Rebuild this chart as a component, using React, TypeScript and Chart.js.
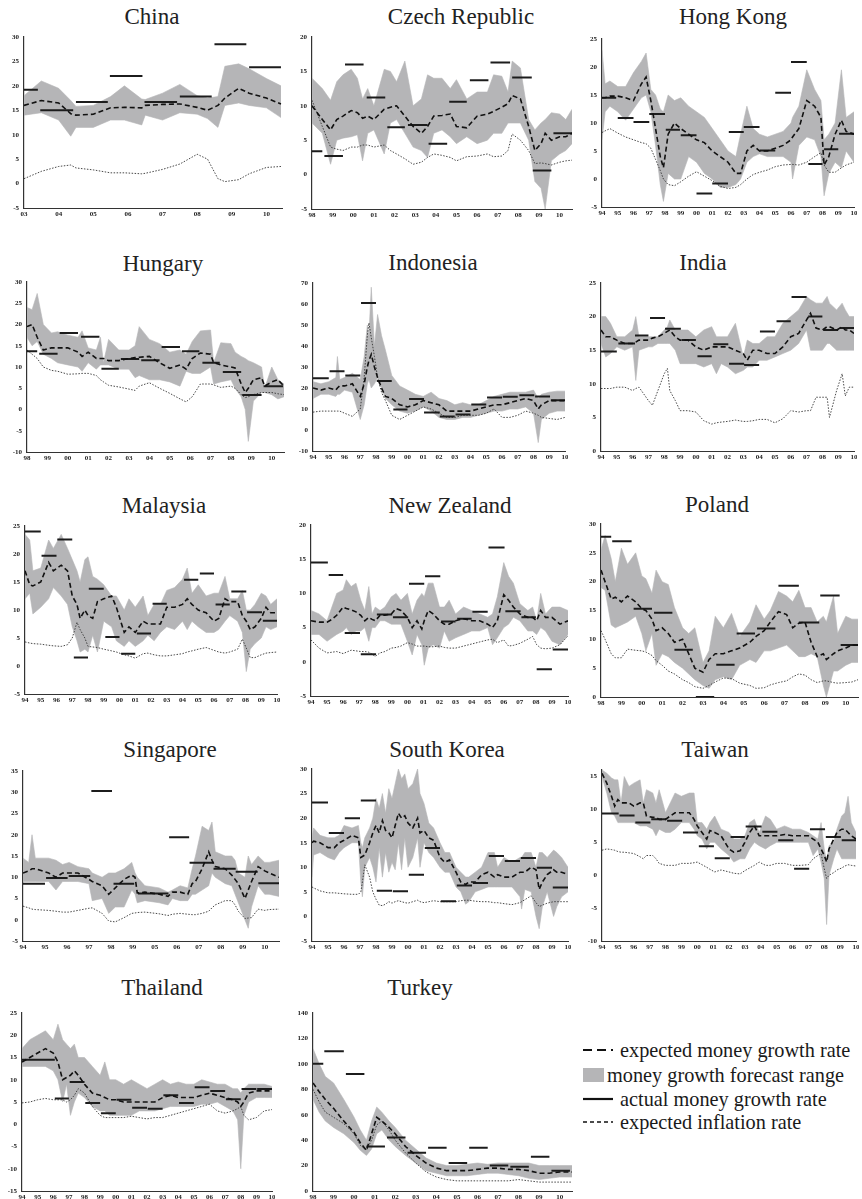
import React, { useEffect, useRef } from "react";
import { Chart, registerables } from "chart.js";
Chart.register(...registerables);

// ---------- tick values ----------
const yearTicks94 = [1994, 1995, 1996, 1997, 1998, 1999, 2000, 2001, 2002, 2003, 2004, 2005, 2006, 2007, 2008, 2009, 2010];
const yearTicks98 = [1998, 1999, 2000, 2001, 2002, 2003, 2004, 2005, 2006, 2007, 2008, 2009, 2010];
const yearTicks03 = [2003, 2004, 2005, 2006, 2007, 2008, 2009, 2010];
const singaporeTickPos = [0, 1, 2, 3, 4, 5, 6, 7, 8, 9, 10, 11];
const singaporeTickLabels = ["94", "95", "96", "97", "98", "99", "05", "06", "07", "08", "09", "10"];

const yTicksChina = [-5, 0, 5, 10, 15, 20, 25, 30];
const yTicksCzech = [-5, 0, 5, 10, 15, 20];
const yTicksHK = [-5, 0, 5, 10, 15, 20, 25];
const yTicksHungary = [-10, -5, 0, 5, 10, 15, 20, 25, 30];
const yTicksIndonesia = [-10, 0, 10, 20, 30, 40, 50, 60, 70];
const yTicksIndia = [0, 5, 10, 15, 20, 25];
const yTicksMalaysia = [-5, 0, 5, 10, 15, 20, 25];
const yTicksNZ = [-5, 0, 5, 10, 15, 20];
const yTicksPoland = [0, 5, 10, 15, 20, 25, 30];
const yTicksSingapore = [-5, 0, 5, 10, 15, 20, 25, 30, 35];
const yTicksKorea = [-5, 0, 5, 10, 15, 20, 25, 30];
const yTicksTaiwan = [-10, -5, 0, 5, 10, 15];
const yTicksThailand = [-15, -10, -5, 0, 5, 10, 15, 20, 25];
const yTicksTurkey = [0, 20, 40, 60, 80, 100, 120, 140];

// ---------- China ----------
const chinaYears = [2003, 2003.5, 2004, 2004.35, 2004.5, 2005, 2005.5, 2005.9, 2006.4, 2006.5, 2007, 2007.5, 2008, 2008.3, 2008.6, 2008.8, 2009.2, 2009.5, 2010, 2010.42];
const chinaHi = [18, 21, 19.5, 17, 15.8, 16, 17.8, 20, 17.3, 17.2, 18.5, 20.3, 18, 17.5, 17.8, 24, 24.5, 23.5, 21.5, 20];
const chinaLo = [14, 14.5, 13, 9.7, 11.5, 11.5, 13, 13, 12, 14, 13, 14.5, 14.2, 13.3, 11.5, 16, 16.5, 16, 15.5, 13.5];
const chinaExp = [16, 17, 16.5, 14.3, 14, 14.2, 15.5, 15.6, 15.5, 16, 16.2, 16.3, 15.6, 15, 16, 17.5, 19.5, 18.5, 17.5, 16.3];
const chinaInf = [1, 2.5, 3.5, 3.8, 3.2, 2.8, 2.2, 2.2, 2, 2.1, 2.9, 4, 6, 5, 1, 0.4, 0.8, 2, 3.3, 3.5];
const chinaAct = [[2003, 2003.4, 19.2], [2003.47, 2004.42, 15], [2004.5, 2005.42, 16.7], [2005.48, 2006.42, 22], [2006.48, 2007.42, 16.7], [2007.5, 2008.42, 17.8], [2008.5, 2009.42, 28.5], [2009.5, 2010.42, 23.8]];

// ---------- Czech Republic ----------
const czechYears = [1998, 1998.5, 1998.9, 1999.2, 1999.5, 1999.9, 2000.2, 2000.45, 2000.7, 2001, 2001.5, 2001.8, 2002.1, 2002.5, 2002.9, 2003.3, 2003.6, 2003.9, 2004.3, 2004.7, 2005, 2005.5, 2006, 2006.5, 2006.8, 2007.2, 2007.5, 2007.7, 2008.1, 2008.5, 2008.8, 2009.1, 2009.3, 2009.6, 2010, 2010.3, 2010.6];
const czechHi = [14, 12.5, 10.8, 13.5, 14.5, 15.3, 14, 11, 12.5, 10, 15.3, 15, 13.5, 16.5, 10, 11, 14.5, 14, 14, 12.5, 13.8, 11, 12, 12, 14.5, 14.3, 12, 16.5, 15.5, 8, 6.5, 7.5, 8, 9, 8.8, 8, 9.5];
const czechLo = [7.5, 6, 1.5, 5, 5.3, 5.5, 5.8, 2, 6, 6.5, 3, 7.5, 8, 6, 4, 3.5, 2.5, 6, 6.5, 5.5, 4.5, 5.5, 4.5, 5, 6, 6, 7.5, 7.5, 7.5, 5, -1, -2, -5, 2, 3, 3.5, 4.5];
const czechExp = [10, 8, 6.5, 8, 8.5, 9.3, 9, 8.2, 8.5, 8, 9.5, 9.8, 10, 8.5, 7, 6, 7, 8.5, 8.6, 8.8, 7, 6.8, 8.5, 8.8, 9.2, 9.8, 10.3, 11.5, 11, 7, 3.5, 4.5, 6, 5, 5.5, 5.5, 6];
const czechInf = [10.8, 7, 4, 3.7, 3.5, 4, 4, 4.3, 4.3, 4, 4.3, 3.5, 3, 2.3, 1.5, 1.8, 2.5, 3, 2.8, 2.5, 2, 2.6, 2.7, 3, 2.6, 2.7, 3.5, 5.9, 5, 3.5, 1.6, 1.7, 1.6, 1.4, 1.8, 2, 2.1];
const czechAct = [[1998, 1998.5, 3.4], [1998.6, 1999.5, 2.7], [1999.6, 2000.5, 16], [2000.65, 2001.55, 11.2], [2001.65, 2002.5, 6.9], [2002.65, 2003.6, 7.2], [2003.65, 2004.55, 4.5], [2004.65, 2005.5, 10.6], [2005.65, 2006.55, 13.7], [2006.65, 2007.6, 16.3], [2007.7, 2008.65, 14.1], [2008.7, 2009.6, 0.6], [2009.7, 2010.6, 6]];

// ---------- Hong Kong ----------
const hkYears = [1994, 1994.2, 1994.5, 1995, 1995.5, 1996, 1996.5, 1996.8, 1997.1, 1997.4, 1997.7, 1997.9, 1998.2, 1998.6, 1999, 1999.5, 2000, 2000.5, 2001, 2001.5, 2002, 2002.5, 2002.8, 2003.2, 2003.6, 2004, 2004.5, 2005, 2005.5, 2006, 2006.1, 2006.5, 2007, 2007.5, 2007.9, 2008.1, 2008.4, 2008.8, 2009.2, 2009.5, 2010];
const hkHi = [23, 17, 17.5, 16.5, 16.5, 19, 21, 22.5, 16, 15, 12.5, 12, 15, 14, 14.5, 13, 12, 11, 9, 7, 5, 4, 8, 13, 9, 8, 7.5, 8, 8.5, 10, 11, 13, 19.5, 16, 14, 7, 8, 10, 19.5, 11, 12];
const hkLo = [7, 12, 13, 12, 10.5, 12.5, 14.5, 15, 12, 6, -1, -4, 1, 0, 0, 4, 3, 1, 0, -1.5, -1.5, -1, 0, 3, 4, 4.5, 4, 4, 4, 3, 0, 6, 7.5, 7, 4, -3, 1, 3, 2, 5, 3];
const hkExp = [14.5, 14.5, 14.8, 14.8, 14.5, 14, 17, 18.2, 14, 9, 4, 2, 8, 10, 9, 8, 7, 6.5, 5, 4, 3, 1, 1, 5, 6, 5, 5, 5.5, 6, 7, 7.5, 9, 14, 13, 11, 2.5, 4, 8, 10.5, 8.5, 8];
const hkInf = [8.3, 8.6, 9, 8.2, 7.5, 7, 6.5, 6.3, 5.5, 3.5, 1.5, 0, -1, -1.2, -0.5, 0.5, 1.3, 0.5, -0.3, -1.3, -1.7, -1.5, -1, 0, 0.8, 1.2, 1.6, 2.2, 2.5, 2.6, 2.6, 2.5, 3, 4, 4.7, 2.5, 1.2, 1.2, 2, 2.5, 3];
const hkAct = [[1994, 1994.9, 14.5], [1995, 1996, 10.9], [1996, 1997, 10.2], [1997, 1998, 11.6], [1998.05, 1998.95, 8.8], [1999, 2000, 7.8], [2000, 2001, -2.6], [2001, 2002, -0.8], [2002.05, 2003, 8.4], [2003, 2004, 9.3], [2004, 2005, 5.1], [2005, 2006, 15.4], [2006, 2007, 20.9], [2007.1, 2008, 2.7], [2008.1, 2009, 5.3], [2009.05, 2010, 8.1]];

// ---------- Hungary ----------
const hungaryYears = [1998, 1998.25, 1998.5, 1998.8, 1999.2, 1999.5, 2000, 2000.5, 2000.7, 2001, 2001.4, 2001.6, 2001.75, 2002, 2002.5, 2003, 2003.3, 2003.5, 2004, 2004.5, 2005, 2005.5, 2005.8, 2006.1, 2006.5, 2007, 2007.15, 2007.5, 2008, 2008.2, 2008.5, 2008.7, 2008.85, 2009.1, 2009.5, 2009.65, 2010, 2010.3, 2010.6];
const hungaryHi = [24, 23.5, 27.3, 20, 18, 18.3, 17.5, 17, 18.5, 14.5, 14, 17, 11, 16.5, 14, 14, 15, 19.5, 16.5, 15.5, 13.5, 14, 13, 16, 18.5, 18.7, 11, 15.7, 15.5, 13.5, 12.5, 12, 11.5, 11, 10, 5, 10, 7, 6];
const hungaryLo = [17, 15, 16, 13, 12, 11, 10.5, 10, 9, 11, 9.5, 10.5, 10.5, 10.5, 9.5, 9.5, 7.5, 8, 7, 7, 6.5, 5.5, 9, 8.5, 8.5, 10, 6, 6.5, 7, 5, 3, 0, -7.5, 2, 4, 4, 3.5, 2.5, 3];
const hungaryExp = [19.5, 20, 17, 14, 14.5, 14.5, 14.5, 13.5, 12.5, 13.5, 12, 12, 12, 11.5, 11.5, 12, 12.2, 12.3, 12.5, 11, 9.7, 10.5, 9.5, 12, 13.3, 13, 11, 10.5, 10, 9.8, 6, 4, 5, 7, 7.5, 5.5, 6.5, 7, 5.5];
const hungaryInf = [14, 13, 12, 10, 9.2, 9, 8.3, 8.4, 8.5, 8.5, 8, 7, 6.5, 5.7, 5.3, 4.8, 4.5, 5.5, 6.3, 5, 3.8, 2.5, 1.8, 3, 6, 6, 5.8, 5.2, 5.5, 5, 3.5, 2.8, 3, 3.5, 4, 4, 4, 3.7, 3.5];
const hungaryAct = [[1998, 1998.5, 13.7], [1998.6, 1999.5, 13.1], [1999.6, 2000.5, 18], [2000.65, 2001.55, 17.1], [2001.65, 2002.5, 9.6], [2002.6, 2003.5, 11.9], [2003.6, 2004.5, 11.6], [2004.6, 2005.5, 14.7], [2005.6, 2006.45, 13.7], [2006.6, 2007.45, 11], [2007.6, 2008.5, 8.8], [2008.55, 2009.5, 3.4], [2009.6, 2010.55, 5.5]];

// ---------- Indonesia ----------
const indonesiaYears = [1994, 1994.5, 1995, 1995.45, 1995.55, 1995.7, 1996, 1996.5, 1997, 1997.25, 1997.45, 1997.55, 1997.7, 1997.9, 1998.1, 1998.35, 1998.6, 1999, 1999.5, 2000, 2000.5, 2001, 2001.5, 2002, 2002.5, 2003, 2003.5, 2004, 2004.5, 2005, 2005.5, 2006, 2006.5, 2007, 2007.5, 2008, 2008.3, 2008.5, 2009, 2009.5, 2010];
const indonesiaHi = [23, 22, 23, 25, 35, 24, 25, 27, 24, 35, 50, 45, 68, 40, 55, 45, 38, 26, 21, 19, 17, 16, 18, 15, 14, 12, 13, 12, 12, 14, 16, 17, 18, 18, 18, 19, 15, 17, 18, 18.5, 18.5];
const indonesiaLo = [15, 17, 17, 16, 17, 17, 19, 18, 5, 12, 22, 24, 20, 22, 25, 20, 15, 12, 9, 8, 9, 11, 9, 6, 5, 5, 6, 6, 7, 8, 9, 9, 10, 10, 11, 8, -6, 5, 8, 9, 9];
const indonesiaExp = [20, 19, 20, 19, 20, 21, 21, 22, 16, 22, 30, 33, 36, 30, 25, 20, 16, 15, 12, 11, 12, 14, 13, 12, 9, 9, 9, 9, 10, 11, 12, 12, 13, 14, 15, 14, 10, 12, 14, 14, 14];
const indonesiaInf = [8.5, 9, 9, 9, 9, 9, 8, 6.5, 10, 25, 45, 51, 44, 35, 25, 18, 14, 7, 5, 7, 9, 11, 10, 8, 6, 6, 7, 7, 7, 8, 10, 6, 6, 7, 9, 8, 7, 6, 5.5, 5, 6];
const indonesiaAct = [[1994, 1995, 24.7], [1995.05, 1996, 28], [1996.05, 1997, 26], [1997.05, 1998, 60.5], [1998.05, 1999, 23.3], [1999.1, 2000, 9.8], [2000.1, 2001.05, 14.8], [2001.05, 2002.05, 8.3], [2002.05, 2003, 6.4], [2003.05, 2004, 7.4], [2004.05, 2005, 12.2], [2005.05, 2006, 15.5], [2006.05, 2007, 15.8], [2007.1, 2008.05, 16.5], [2008.1, 2009.05, 16], [2009.1, 2010, 14.2]];

// ---------- India ----------
const indiaYears = [1994, 1994.3, 1994.6, 1995, 1995.5, 1996, 1996.2, 1996.4, 1997, 1997.25, 1997.6, 1998, 1998.2, 1998.35, 1998.7, 1999, 1999.5, 2000, 2000.5, 2001, 2001.3, 2001.6, 2002, 2002.5, 2003, 2003.25, 2003.6, 2004, 2004.5, 2005, 2005.5, 2006, 2006.5, 2007, 2007.25, 2007.6, 2008, 2008.3, 2008.45, 2008.9, 2009.25, 2009.45, 2009.7, 2010];
const indiaHi = [20, 20, 19, 17, 17, 18, 20, 17, 17, 17, 17, 18, 18.5, 19.5, 18, 18, 18, 17, 18, 18.5, 17, 17, 17, 19, 14, 16.5, 16, 16, 17, 17, 19, 20, 21, 23, 22.5, 22, 22, 23, 22, 21, 22, 21, 20, 20];
const indiaLo = [16, 14, 14.5, 15.5, 15, 15.5, 10.5, 15, 15.5, 15.5, 16, 16, 16, 16, 15, 13, 13, 13, 12.5, 13, 11.5, 13, 12.5, 11.5, 12, 12.5, 12.5, 13.5, 13.5, 14, 14.5, 15, 16, 18, 15, 15, 15, 16, 16, 15, 15, 15, 15, 15];
const indiaExp = [18, 17, 17, 16.5, 16, 16, 16.2, 16.5, 16.5, 16.8, 17, 17.5, 17.8, 18, 17, 16.5, 16.5, 15.5, 15, 15.5, 15.5, 15.5, 15.5, 15, 14.5, 13.5, 15, 15, 14.5, 14.5, 15.5, 17, 17.5, 19.5, 20.5, 18.3, 18, 18.5, 18.5, 18, 18.5, 18, 18, 17.5];
const indiaInf = [9.3, 9.3, 9.3, 9.5, 9.5, 9, 9.3, 9.5, 7.5, 6.8, 9, 11.5, 12.3, 9, 7.5, 6, 6, 5.8, 4.5, 4, 4.2, 4.3, 4.4, 4.6, 4.4, 4.4, 4.5, 4.7, 4.7, 4.2, 4.8, 6, 5.8, 6, 6, 8, 8, 8, 5, 9, 11.5, 8.2, 9.5, 9.5];
const indiaAct = [[1994, 1995, 14.8], [1995.1, 1996.15, 16], [1996.15, 1997, 17.2], [1997.1, 1998.05, 19.8], [1998.05, 1999.05, 18.2], [1999.1, 2000, 16.5], [2000.1, 2001, 14.1], [2001.1, 2002.05, 15.9], [2002.1, 2003.05, 13], [2003.05, 2004, 12.8], [2004.05, 2005, 17.8], [2005.1, 2006, 19.3], [2006.05, 2007, 22.9], [2007.1, 2008, 20], [2008.05, 2009, 18], [2009.1, 2010, 18.3]];

// ---------- Malaysia ----------
const malaysiaYears = [1994, 1994.3, 1994.5, 1995, 1995.5, 1995.8, 1996.3, 1996.7, 1997, 1997.3, 1997.5, 1997.8, 1998, 1998.3, 1998.6, 1999, 1999.5, 1999.8, 2000.3, 2000.6, 2001, 2001.5, 2001.8, 2002.2, 2002.6, 2003, 2003.5, 2004, 2004.3, 2004.6, 2005, 2005.5, 2006, 2006.3, 2006.7, 2007, 2007.5, 2007.8, 2008.05, 2008.3, 2008.6, 2009, 2009.3, 2009.6, 2010];
const malaysiaHi = [23.5, 22.5, 17, 17.5, 22.5, 21, 23.5, 21, 19, 17, 15, 19, 19.5, 16, 15.5, 14.5, 12.5, 12.5, 10, 12, 10.5, 12.5, 9, 11, 11, 13.5, 14, 15.5, 17.5, 13, 14.5, 12.5, 13, 13, 16, 12, 12, 13.5, 10, 10, 11, 13, 12.5, 11, 12];
const malaysiaLo = [12, 13, 9.3, 10.5, 12, 14, 12.5, 11, 7, 4.5, 2.5, 3, 2.5, 5.5, 2.5, 8, 7, 4.5, 3.5, 4.5, 3.5, 4.5, 5.5, 4.5, 6, 7, 6.5, 8, 6.5, 8, 7, 6, 6, 6.5, 8, 9, 8, 6, -1, 3, 4, 5, 7, 6.5, 7];
const malaysiaExp = [17, 14.5, 14.3, 15, 18.5, 17, 18, 17, 12.5, 11, 8.5, 10, 9, 8.5, 11.5, 12, 12.5, 10.5, 6, 7, 6, 8, 7.5, 7.5, 7.5, 10.5, 10.5, 11, 12, 11, 10, 9.5, 8, 8.5, 12, 11.5, 11.5, 9, 8, 6.5, 7, 8.5, 10.5, 9.5, 9.5];
const malaysiaInf = [4.3, 4.1, 4, 3.9, 3.7, 3.6, 3.5, 3.8, 5, 7.8, 6.5, 5, 3.5, 3.4, 3.3, 3, 2.7, 2.5, 2, 1.8, 1.4, 2.2, 2.3, 2, 1.8, 1.8, 2, 2.2, 2.5, 2.7, 3, 3.3, 2.8, 2.5, 2.3, 2.5, 3, 4.8, 3.2, 1.5, 1.5, 2, 2.3, 2.4, 2.5];
const malaysiaAct = [[1994, 1995, 24], [1995.05, 1996, 19.7], [1996.05, 1997, 22.6], [1997.1, 1998, 1.5], [1998.05, 1999, 13.8], [1999.1, 2000, 5.2], [2000.1, 2001, 2.2], [2001.1, 2002, 5.8], [2002.1, 2003, 11.1], [2004.1, 2005, 15.4], [2005.1, 2006, 16.5], [2006.1, 2007, 11], [2007.1, 2008.05, 13.3], [2008.1, 2009.05, 9.6], [2009.1, 2010, 8.1]];

// ---------- New Zealand ----------
const nzYears = [1994, 1994.5, 1995, 1995.3, 1995.6, 1996, 1996.2, 1996.5, 1996.8, 1997.1, 1997.35, 1997.6, 1997.8, 1998, 1998.3, 1998.6, 1999, 1999.3, 1999.6, 2000, 2000.3, 2000.6, 2000.9, 2001.05, 2001.3, 2001.6, 2002, 2002.3, 2002.6, 2003, 2003.5, 2004, 2004.5, 2005, 2005.3, 2005.6, 2006, 2006.3, 2006.6, 2007, 2007.5, 2007.8, 2008.05, 2008.3, 2008.6, 2009, 2009.5, 2010];
const nzHi = [7.5, 7, 6, 8, 10, 10.5, 12, 11, 11.5, 9, 7.5, 11, 7, 8, 7.5, 8, 9.5, 10, 9, 10, 7, 9, 10, 9.5, 11.5, 11.5, 8, 8, 9, 7, 8, 7.5, 7, 6.5, 7, 9.5, 14.5, 12.5, 11.5, 8.5, 7.5, 8, 6, 10, 7, 8, 8, 7.5];
const nzLo = [4, 4, 3, 3.5, 4, 4.5, 5, 4, 4.5, 4.5, 5, 3, 5, 5, 6, 6, 5.5, 5.5, 5.5, 3, 1, 4, 2.5, -0.5, 2, 2.5, 2, 4.5, 3, 3.5, 4, 4.5, 4.5, 5, 2.5, 3.5, 5, 5.5, 6.5, 6, 4.5, 4.5, 4, 5, 4.5, 3, 2.5, 4];
const nzExp = [6, 5.8, 5.8, 6.2, 6.8, 8, 7.8, 7.6, 7.3, 6.8, 6, 6.5, 6.2, 6, 6.8, 6.8, 7, 7.8, 7.5, 6.5, 5, 6, 4.8, 6, 7.5, 7, 6, 5.5, 5.5, 6, 6.3, 6, 6, 5.5, 5, 6, 9.8, 9, 8, 7, 6.5, 6.5, 6, 7.5, 6.5, 6.5, 5.5, 6];
const nzInf = [3.2, 2, 1.3, 1.4, 1.5, 1.2, 1.4, 1.7, 1.6, 1.5, 1.5, 1.4, 1.1, 0.8, 1.3, 1.5, 2, 2.1, 2.3, 2.8, 2.6, 2.3, 2.3, 2.3, 2.2, 2.2, 2.3, 2.1, 2, 2, 2.3, 2.6, 2.9, 3.2, 3.3, 2.8, 3.2, 2.3, 2.4, 2.7, 3.3, 3.7, 2.5, 2, 1.9, 2, 2.5, 3.8];
const nzAct = [[1994, 1995.05, 14.5], [1995.1, 1996, 12.7], [1996.1, 1997.05, 4.2], [1997.1, 1998.05, 1.1], [1998.1, 1999.05, 6.9], [1999.1, 2000.05, 6.5], [2000.1, 2001.05, 11.4], [2001.1, 2002.05, 12.5], [2002.1, 2003, 5.9], [2003.1, 2004, 6.3], [2004.05, 2005, 7.3], [2005.05, 2006.05, 16.7], [2006.1, 2007.05, 7.4], [2007.1, 2008, 6.5], [2008.05, 2009, -1.1], [2009.05, 2010, 1.8]];

// ---------- Poland ----------
const polandYears = [1998, 1998.2, 1998.5, 1998.7, 1999, 1999.3, 1999.7, 2000, 2000.2, 2000.5, 2000.7, 2001, 2001.3, 2001.6, 2002, 2002.3, 2002.6, 2003, 2003.3, 2003.6, 2004, 2004.4, 2004.8, 2005.3, 2005.6, 2006, 2006.3, 2006.7, 2007.1, 2007.4, 2007.7, 2008, 2008.3, 2008.6, 2008.9, 2009.05, 2009.4, 2009.6, 2010, 2010.3, 2010.6];
const polandHi = [25.5, 28, 24, 20, 25.8, 23, 25, 21, 20.5, 18, 22, 20, 19.5, 15.5, 12, 11, 12, 6, 8, 14, 12, 14.5, 10.5, 13, 16, 13.5, 15, 18.3, 17.5, 16.5, 18.5, 15.5, 15.5, 13, 14, 13, 17.5, 11, 14, 13.5, 13.5];
const polandLo = [19, 18.5, 12.5, 12, 12.5, 13, 14, 11, 8, 11, 5.5, 7.5, 7, 6, 5, 4, 3, 2, 1.5, 3, 3.5, 3, 5.5, 6.5, 6, 8, 8, 8.5, 9, 8, 7, 7, 7.5, 7, 2, 0, 4.5, 4.5, 5.5, 6, 6];
const polandExp = [22, 20, 17, 17.3, 16.5, 17.5, 16.5, 15.3, 15, 13.5, 11.5, 12, 11, 9.5, 10, 7.5, 5, 4.3, 6.5, 7.5, 7.5, 8, 8.5, 9.5, 10.5, 11.5, 13, 14.8, 14.3, 12, 12.8, 13, 9.5, 7, 7.5, 6.5, 7.5, 8, 8.5, 9, 9];
const polandInf = [11.5, 10, 7.5, 6.8, 6.8, 8.3, 8.1, 8, 7.8, 7.2, 6.3, 5.5, 4.5, 4, 3, 2.5, 1.8, 1.5, 2, 2.6, 3.3, 3.2, 2.4, 2, 1.5, 1.6, 2.1, 2.5, 2.8, 3.5, 4, 3.8, 3, 2.5, 2.8, 2.8, 2.5, 2.4, 2.5, 2.6, 3];
const polandAct = [[1998, 1998.5, 27.8], [1998.55, 1999.5, 27], [1999.6, 2000.5, 15.3], [2000.6, 2001.5, 14.6], [2001.6, 2002.5, 8.2], [2002.65, 2003.55, 0], [2003.65, 2004.55, 5.6], [2004.65, 2005.55, 11], [2005.65, 2006.55, 11.9], [2006.7, 2007.7, 19.3], [2007.7, 2008.7, 12.9], [2008.75, 2009.7, 17.6], [2009.75, 2010.6, 9]];

// ---------- Singapore (axis positions follow the printed labels) ----------
const singaporePos = [0, 0.26, 0.41, 0.56, 1.17, 1.5, 1.8, 2.1, 2.5, 3, 3.15, 3.6, 3.9, 4.2, 4.6, 4.95, 5.1, 5.2, 5.55, 6.2, 6.6, 6.8, 7.15, 7.5, 7.7, 7.85, 8.15, 8.45, 8.6, 8.75, 9.2, 9.5, 9.65, 9.8, 10.1, 10.25, 10.4, 10.7, 11, 11.2, 11.65];
const singaporeHi = [14.5, 13.5, 20, 14.5, 14.5, 14, 13, 13.5, 12.5, 12, 11, 10, 11, 11, 12, 13.5, 11, 10, 8, 7.5, 6.5, 7, 8, 7.5, 12, 15, 22, 21, 23, 16, 15, 15, 14, 11, 10, 15, 13, 15, 13.5, 13.5, 14];
const singaporeLo = [9, 9, 9, 9, 9, 7, 9, 9, 9, 8.5, 4.5, 5, 1.5, 3, 3, 7, 6, 4, 4.5, 4, 3.5, 5, 4.5, 4.5, 6, 6, 7, 8, 11, 10, 8.5, 8, 6, 4, 0, -2, 3, 8, 6, 6, 5.5];
const singaporeExp = [11, 11.5, 12, 12, 11, 10, 11, 11, 11, 9.5, 9, 8, 6, 7.5, 9.5, 10.5, 10, 6.3, 6.5, 6, 5.5, 6.5, 6.5, 6, 8.5, 9, 12, 16, 14, 12.5, 12, 10.5, 9.5, 8.5, 5, 7, 9, 12.5, 11.5, 11, 10];
const singaporeInf = [3.2, 2.8, 2.5, 2.4, 2.2, 2, 1.8, 1.8, 2.2, 2.7, 2.8, 1.5, -0.3, -0.5, 0.5, 1.5, 1.6, 1.7, 1.8, 1.4, 1, 1.3, 1.5, 1.3, 1.2, 1.2, 1.5, 2, 2.8, 3.5, 4.5, 4.5, 3.5, 2, 0.3, 0.4, 0.5, 2.5, 2.2, 2.4, 2.5];
const singaporeAct = [[0, 1, 8.5], [1.05, 2.03, 9.8], [2.08, 3.06, 10.3], [3.11, 4.05, 30.3], [4.12, 5.06, 8.5], [5.23, 6.62, 6.2], [6.65, 7.56, 19.4], [7.58, 8.67, 13.4], [8.67, 9.68, 12], [9.68, 10.68, 11.3], [10.71, 11.65, 8.6]];

// ---------- South Korea ----------
const koreaYears = [1994, 1994.1, 1994.5, 1995, 1995.4, 1995.7, 1996, 1996.5, 1996.9, 1997.05, 1997.15, 1997.3, 1997.6, 1997.8, 1998, 1998.2, 1998.4, 1998.6, 1998.8, 1999, 1999.2, 1999.4, 1999.6, 1999.8, 2000, 2000.3, 2000.6, 2000.75, 2001, 2001.3, 2001.6, 2002, 2002.3, 2002.6, 2003, 2003.3, 2003.6, 2003.8, 2004.2, 2004.6, 2005, 2005.4, 2005.6, 2006, 2006.5, 2007, 2007.1, 2007.3, 2007.7, 2008, 2008.2, 2008.4, 2008.7, 2009.1, 2009.3, 2009.6, 2010];
const koreaHi = [16, 18, 16.5, 16, 16, 16.5, 18.5, 18, 18.5, 15, 14, 16, 18, 20, 24, 22, 25, 21, 26, 24, 27, 30, 28, 29, 26, 27, 30, 25, 23, 19, 18, 15, 13, 13, 10, 9, 8, 8, 9, 10, 13, 13, 10, 12, 11, 12, 12, 13, 13, 10, 13, 13, 12, 13.5, 13, 12, 10];
const koreaLo = [8, 12.5, 13, 12, 11.5, 13, 14, 15, 15, 7, 4, 10, 12, 10, 7, 14, 8, 13, 9, 11, 9.5, 15, 9.5, 16, 10, 12, 16, 10, 15, 13, 12, 10, 9, 9, 6, 5, 2.5, 3, 5, 5.5, 6, 6, 6, 6, 6, 4, 1.5, 5.5, 5, 0, -2.5, 2, 5, 0, 2, 4, 5];
const koreaExp = [15, 15.3, 15, 14, 14, 15, 15.5, 16.5, 16, 12, 12.2, 12.5, 15, 17, 18.5, 17, 19.5, 17.5, 17, 16, 18.5, 21, 20, 20.5, 19, 18, 20, 17, 17.5, 16, 15.5, 12, 11, 11.5, 9, 7, 6.5, 7, 7, 8.5, 9, 8, 8.5, 8, 8, 9, 9, 9, 10, 9.5, 5.5, 7, 8.5, 9.5, 9, 9, 8.5];
const koreaInf = [6, 5.8, 5.2, 4.8, 4.8, 4.7, 4.6, 4.5, 4.5, 5, 7, 10.5, 8, 5, 3.5, 2.3, 2.2, 2.5, 3, 2.7, 3, 3.2, 3, 2.8, 2.7, 3, 3.3, 3, 2.8, 3, 3.2, 3, 3, 3, 3, 3.2, 3.3, 3.3, 3.1, 3, 3, 2.8, 2.8, 2.6, 2.4, 2.8, 3, 3.4, 4.2, 2.8, 2, 2.3, 2.7, 3, 3, 3, 3];
const koreaAct = [[1994, 1995, 23.2], [1995.05, 1996, 17], [1996.05, 1997, 20], [1997.05, 1998, 23.6], [1998.05, 1999, 5.2], [1999.05, 2000, 5.1], [2000.05, 2001, 8.5], [2001.05, 2002, 13.9], [2002.05, 2003, 3.1], [2003.05, 2004, 6.3], [2004.05, 2005, 6.8], [2005.05, 2006, 12.3], [2006.05, 2007, 11.3], [2007.05, 2008, 11.9], [2008.05, 2009, 9.9], [2009.05, 2010, 5.9]];

// ---------- Taiwan ----------
const taiwanYears = [1994, 1994.3, 1994.6, 1994.8, 1995, 1995.2, 1995.4, 1995.7, 1996, 1996.4, 1996.6, 1996.8, 1997.2, 1997.4, 1997.6, 1998, 1998.3, 1998.6, 1999, 1999.5, 1999.8, 2000, 2000.3, 2000.6, 2000.8, 2001.1, 2001.5, 2002, 2002.3, 2002.7, 2003, 2003.3, 2003.6, 2003.9, 2004.3, 2004.6, 2005, 2005.5, 2006, 2006.5, 2007, 2007.3, 2007.6, 2007.8, 2008, 2008.15, 2008.3, 2008.6, 2008.8, 2009.1, 2009.3, 2009.5, 2009.7, 2010];
const taiwanHi = [16, 15.5, 14.8, 14.5, 14.5, 11, 15, 13.5, 14, 14.5, 11, 13, 12.5, 11, 13, 9.5, 11, 12.5, 12, 12.5, 12.5, 8, 8, 7, 8, 9, 7, 6.5, 5.5, 5.5, 6, 8, 8.5, 6.5, 9, 8.5, 7, 7.5, 7, 7, 6.5, 6, 5.5, 8, 4, 2, 4.5, 5, 7, 9, 9.5, 12, 8, 6.5];
const taiwanLo = [15, 12.5, 9.5, 9, 8, 8, 8, 8, 8, 7.5, 7.5, 7.5, 7, 6, 7, 6.5, 6.5, 7, 8, 8, 7, 6, 5.5, 4, 5, 5, 4, 3, 2, 2.5, 2.5, 4, 5, 4.5, 4, 4.5, 5, 5, 5, 5, 5, 3, 4, 2, -0.5, -7.5, 0, 2.5, 4, 2.5, 2.5, 2.5, 2.5, 2.5];
const taiwanExp = [15.5, 14, 12, 10.5, 11.5, 11, 11, 11, 10.5, 11, 11, 9, 8.8, 8.8, 8.5, 8.5, 9, 9.5, 9.5, 9.5, 8.5, 7.5, 6.5, 5.5, 6.8, 6.5, 6, 4, 3.5, 3.7, 5, 6.5, 7.5, 6, 6, 6, 6, 6.2, 6, 6, 6, 5.5, 5, 4, 3, 2, 4, 5.5, 6.5, 7, 7, 6.5, 6, 5.5];
const taiwanInf = [3.8, 4, 3.9, 3.8, 3.6, 3.5, 3.5, 3.4, 3.3, 2.8, 2.5, 3, 3, 2.5, 1.8, 1.5, 1.5, 1.5, 1.8, 1.8, 1.9, 2, 1.6, 1.2, 0.9, 0.5, 0.8, 0.5, 0.3, 0.2, 0.7, 1.1, 1.5, 2, 1.5, 1.5, 1.8, 1.8, 1.5, 1.5, 1.6, 2.5, 3, 3.3, 1, -0.5, 0, 0.4, 0.8, 1.1, 1.4, 1.6, 1.5, 1.4];
const taiwanAct = [[1994, 1995.05, 9.4], [1995.1, 1996.05, 9.1], [1996.1, 1997.05, 8], [1997.1, 1998.05, 8.5], [1998.1, 1999.05, 8.3], [1999.1, 2000.05, 6.5], [2000.1, 2001.05, 4.4], [2001.1, 2002.05, 2.6], [2002.1, 2003, 5.8], [2003.05, 2004.05, 7.4], [2004.1, 2005.05, 6.6], [2005.1, 2006.05, 5.3], [2006.1, 2007.05, 1], [2007.1, 2008.05, 7], [2008.1, 2009.05, 5.8], [2009.1, 2010, 5.3]];

// ---------- Thailand ----------
const thailandYears = [1994, 1994.5, 1995, 1995.5, 1996, 1996.3, 1996.6, 1996.85, 1997.1, 1997.35, 1997.6, 1998, 1998.5, 1999, 1999.3, 1999.6, 2000, 2000.5, 2001, 2001.5, 2002, 2002.5, 2003, 2003.5, 2004, 2004.5, 2005, 2005.5, 2006, 2006.5, 2007, 2007.5, 2007.8, 2008, 2008.2, 2008.5, 2009, 2009.5, 2010];
const thailandHi = [17, 19, 20, 21, 19, 22.5, 19, 18, 17, 18, 15, 15, 13, 11, 14, 10, 10, 9, 10, 9, 8, 9, 10, 9, 9.5, 9, 9, 10, 9.5, 9, 9, 8, 8, 7, 8, 9, 9, 9, 8.5];
const thailandLo = [13, 13, 13, 13, 12, 10, 5, 9, 2, 5, 7, 6, 4, 3, 3, 2, 2, 2, 2, 3, 3, 3, 3.5, 4, 4, 4, 4, 4.5, 4.5, 5, 4, 3, 1, -10, 2, 5, 6, 6, 6];
const thailandExp = [14, 15, 16, 17, 16, 14, 10, 10.5, 11, 12, 11, 9, 7, 6.5, 6, 5.5, 5.5, 5, 5, 5, 5, 5, 6, 6.5, 6, 6, 6, 6.5, 7, 6.5, 6, 5.5, 5, 4, 5, 7, 7.5, 7.5, 7.5];
const thailandInf = [4.8, 5, 5.5, 5.8, 5.5, 5.5, 5.5, 5, 5.5, 6.5, 8, 7, 4, 2, 1.5, 1.5, 1.5, 1.5, 1.8, 1.5, 1.2, 1.5, 1.5, 2, 2.5, 3, 3.5, 4, 4.5, 3, 2.5, 3, 3.5, 4, 2, 1, 1.5, 3, 3.3];
const thailandAct = [[1994, 1995, 14.5], [1995, 1996.1, 14.5], [1996.1, 1997, 5.8], [1997.05, 1998, 9.5], [1998.05, 1999, 4.8], [1999.05, 2000, 2.5], [2000.05, 2001, 5.5], [2001.05, 2002, 3.7], [2002.05, 2003, 3.5], [2003.05, 2004, 6.5], [2004.05, 2005, 4.8], [2005.05, 2006, 8.3], [2006.05, 2007, 7.5], [2007.05, 2008, 5.6], [2008.05, 2009, 7.9], [2009.05, 2010, 7.9]];

// ---------- Turkey ----------
const turkeyYears = [1998, 1998.3, 1998.6, 1999, 1999.5, 2000, 2000.3, 2000.6, 2000.85, 2001.1, 2001.35, 2001.7, 2002, 2002.5, 2003, 2003.5, 2004, 2004.5, 2005, 2005.5, 2006, 2006.5, 2007, 2007.5, 2008, 2008.5, 2009, 2009.5, 2010, 2010.6];
const turkeyHi = [112, 100, 90, 85, 72, 58, 48, 40, 55, 66, 62, 55, 50, 40, 33, 26, 22, 20, 20, 21, 22, 21, 22, 22, 22, 22, 20, 20, 20, 20];
const turkeyLo = [72, 62, 55, 50, 45, 38, 32, 28, 33, 45, 48, 40, 35, 28, 22, 16, 14, 12, 12, 12, 13, 14, 14, 13, 12, 10, 9, 10, 11, 11];
const turkeyExp = [85, 78, 72, 65, 55, 46, 38, 32, 45, 58, 55, 50, 45, 35, 28, 22, 18, 16, 16, 16, 17, 18, 18, 17, 17, 16, 14, 14, 15, 15];
const turkeyInf = [80, 70, 62, 58, 53, 45, 36, 32, 40, 52, 55, 48, 40, 30, 22, 15, 11, 9, 8, 8, 8, 8, 8, 8, 9, 8, 7, 7, 7, 7];
const turkeyAct = [[1998, 1998.5, 100], [1998.55, 1999.5, 110], [1999.6, 2000.5, 92], [2000.6, 2001.5, 35], [2001.6, 2002.5, 42], [2002.6, 2003.5, 30], [2003.6, 2004.5, 34], [2004.6, 2005.5, 22], [2005.6, 2006.5, 34], [2006.6, 2007.5, 20], [2007.6, 2008.5, 19], [2008.6, 2009.5, 27], [2009.6, 2010.5, 16]];

// ---------- styles ----------
const BAND = "#b5b5b7";
const SERIF = "'Liberation Serif', 'Times New Roman', serif";
const TICK_FONT = { family: SERIF, size: 7, weight: "bold" as const };

const twoDigit = (v: number) => {
  const n = Math.round(v) % 100;
  return n < 10 ? "0" + n : String(n);
};

type PanelDef = {
  title: string; titleX: number; titleY: number;
  axisX: number; top: number; bottom: number; right: number;
  xMin: number; xMax: number; yMin: number; yMax: number;
  xTicks: number[]; xLabel: (v: number) => string; yTicks: number[];
  xs: number[]; hi: number[]; lo: number[]; exp: number[]; inf: number[]; act: number[][];
};

const sgLabel = (v: number) => singaporeTickLabels[Math.round(v)] ?? "";

const panels: PanelDef[] = [
  { title: "China", titleX: 152, titleY: 17, axisX: 24, top: 37, bottom: 208, right: 282, xMin: 2003, xMax: 2010.45, yMin: -5, yMax: 30, xTicks: yearTicks03, xLabel: twoDigit, yTicks: yTicksChina, xs: chinaYears, hi: chinaHi, lo: chinaLo, exp: chinaExp, inf: chinaInf, act: chinaAct },
  { title: "Czech Republic", titleX: 461, titleY: 17, axisX: 312, top: 37, bottom: 209, right: 572, xMin: 1998, xMax: 2010.6, yMin: -5, yMax: 20, xTicks: yearTicks98, xLabel: twoDigit, yTicks: yTicksCzech, xs: czechYears, hi: czechHi, lo: czechLo, exp: czechExp, inf: czechInf, act: czechAct },
  { title: "Hong Kong", titleX: 733, titleY: 17, axisX: 602, top: 39, bottom: 207, right: 854, xMin: 1994, xMax: 2010, yMin: -5, yMax: 25, xTicks: yearTicks94, xLabel: twoDigit, yTicks: yTicksHK, xs: hkYears, hi: hkHi, lo: hkLo, exp: hkExp, inf: hkInf, act: hkAct },
  { title: "Hungary", titleX: 163, titleY: 264, axisX: 27, top: 282, bottom: 452, right: 284, xMin: 1998, xMax: 2010.6, yMin: -10, yMax: 30, xTicks: yearTicks98, xLabel: twoDigit, yTicks: yTicksHungary, xs: hungaryYears, hi: hungaryHi, lo: hungaryLo, exp: hungaryExp, inf: hungaryInf, act: hungaryAct },
  { title: "Indonesia", titleX: 433, titleY: 263, axisX: 313, top: 283, bottom: 451, right: 565, xMin: 1994, xMax: 2010, yMin: -10, yMax: 70, xTicks: yearTicks94, xLabel: twoDigit, yTicks: yTicksIndonesia, xs: indonesiaYears, hi: indonesiaHi, lo: indonesiaLo, exp: indonesiaExp, inf: indonesiaInf, act: indonesiaAct },
  { title: "India", titleX: 703, titleY: 263, axisX: 601, top: 283, bottom: 451, right: 854, xMin: 1994, xMax: 2010, yMin: 0, yMax: 25, xTicks: yearTicks94, xLabel: twoDigit, yTicks: yTicksIndia, xs: indiaYears, hi: indiaHi, lo: indiaLo, exp: indiaExp, inf: indiaInf, act: indiaAct },
  { title: "Malaysia", titleX: 164, titleY: 506, axisX: 25, top: 526, bottom: 694, right: 277, xMin: 1994, xMax: 2010, yMin: -5, yMax: 25, xTicks: yearTicks94, xLabel: twoDigit, yTicks: yTicksMalaysia, xs: malaysiaYears, hi: malaysiaHi, lo: malaysiaLo, exp: malaysiaExp, inf: malaysiaInf, act: malaysiaAct },
  { title: "New Zealand", titleX: 450, titleY: 506, axisX: 311, top: 525, bottom: 696, right: 568, xMin: 1994, xMax: 2010, yMin: -5, yMax: 20, xTicks: yearTicks94, xLabel: twoDigit, yTicks: yTicksNZ, xs: nzYears, hi: nzHi, lo: nzLo, exp: nzExp, inf: nzInf, act: nzAct },
  { title: "Poland", titleX: 717, titleY: 505, axisX: 601, top: 524, bottom: 697, right: 858, xMin: 1998, xMax: 2010.6, yMin: 0, yMax: 30, xTicks: yearTicks98, xLabel: twoDigit, yTicks: yTicksPoland, xs: polandYears, hi: polandHi, lo: polandLo, exp: polandExp, inf: polandInf, act: polandAct },
  { title: "Singapore", titleX: 170, titleY: 750, axisX: 23, top: 771, bottom: 941, right: 279, xMin: 0, xMax: 11.65, yMin: -5, yMax: 35, xTicks: singaporeTickPos, xLabel: sgLabel, yTicks: yTicksSingapore, xs: singaporePos, hi: singaporeHi, lo: singaporeLo, exp: singaporeExp, inf: singaporeInf, act: singaporeAct },
  { title: "South Korea", titleX: 447, titleY: 750, axisX: 312, top: 769, bottom: 941, right: 568, xMin: 1994, xMax: 2010, yMin: -5, yMax: 30, xTicks: yearTicks94, xLabel: twoDigit, yTicks: yTicksKorea, xs: koreaYears, hi: koreaHi, lo: koreaLo, exp: koreaExp, inf: koreaInf, act: koreaAct },
  { title: "Taiwan", titleX: 715, titleY: 750, axisX: 602, top: 770, bottom: 941, right: 856, xMin: 1994, xMax: 2010, yMin: -10, yMax: 16, xTicks: yearTicks94, xLabel: twoDigit, yTicks: yTicksTaiwan, xs: taiwanYears, hi: taiwanHi, lo: taiwanLo, exp: taiwanExp, inf: taiwanInf, act: taiwanAct },
  { title: "Thailand", titleX: 162, titleY: 988, axisX: 22, top: 1013, bottom: 1191, right: 272, xMin: 1994, xMax: 2010, yMin: -15, yMax: 25, xTicks: yearTicks94, xLabel: twoDigit, yTicks: yTicksThailand, xs: thailandYears, hi: thailandHi, lo: thailandLo, exp: thailandExp, inf: thailandInf, act: thailandAct },
  { title: "Turkey", titleX: 420, titleY: 988, axisX: 313, top: 1013, bottom: 1191, right: 572, xMin: 1998, xMax: 2010.6, yMin: 0, yMax: 140, xTicks: yearTicks98, xLabel: twoDigit, yTicks: yTicksTurkey, xs: turkeyYears, hi: turkeyHi, lo: turkeyLo, exp: turkeyExp, inf: turkeyInf, act: turkeyAct },
];

const PT = 6, PR = 3, XH = 13;

function PanelChart({ p }: { p: PanelDef }) {
  const ref = useRef<HTMLCanvasElement>(null);
  const YW = Math.min(24, p.axisX);
  const W = p.right - p.axisX + YW + PR;
  const H = p.bottom - p.top + PT + XH;

  useEffect(() => {
    if (!ref.current) return;
    const pts = (ys: number[]) => p.xs.map((x, i) => ({ x, y: ys[i] }));
    const actPts: { x: number; y: number | null }[] = [];
    p.act.forEach(([s, e, v]) => {
      actPts.push({ x: s, y: v }, { x: e, y: v }, { x: e + 0.0001, y: null });
    });
    const chart = new Chart(ref.current, {
      type: "line",
      data: {
        datasets: [
          { data: pts(p.exp), borderColor: "#111", borderWidth: 1.6, borderDash: [5, 3], pointRadius: 0, fill: false, tension: 0 },
          { data: actPts as any, borderColor: "#1c1c1c", borderWidth: 2, pointRadius: 0, fill: false, spanGaps: false, tension: 0 },
          { data: pts(p.inf), borderColor: "#333", borderWidth: 0.9, borderDash: [1.5, 1.5], pointRadius: 0, fill: false, tension: 0 },
          { data: pts(p.hi), borderColor: BAND, backgroundColor: BAND, borderWidth: 0.6, pointRadius: 0, fill: "+1", tension: 0 },
          { data: pts(p.lo), borderColor: BAND, borderWidth: 0.6, pointRadius: 0, fill: false, tension: 0 },
        ],
      },
      options: {
        animation: false,
        responsive: false,
        maintainAspectRatio: false,
        events: [],
        layout: { padding: { top: PT, right: PR, left: 0, bottom: 0 } },
        plugins: { legend: { display: false }, tooltip: { enabled: false }, title: { display: false } },
        scales: {
          x: {
            type: "linear",
            min: p.xMin,
            max: p.xMax,
            grid: { display: false, drawTicks: false },
            border: { display: true, color: "#333", width: 1 },
            ticks: { padding: 2, font: TICK_FONT, color: "#222", autoSkip: false, maxRotation: 0, minRotation: 0, callback: (v: any) => p.xLabel(Number(v)) },
            afterBuildTicks: (s: any) => { s.ticks = p.xTicks.map((v) => ({ value: v })); },
            afterFit: (s: any) => { s.height = XH; s.paddingLeft = 0; s.paddingRight = 0; },
          },
          y: {
            type: "linear",
            min: p.yMin,
            max: p.yMax,
            grid: { display: false, drawTicks: false },
            border: { display: true, color: "#333", width: 1.2 },
            ticks: { padding: 5, font: TICK_FONT, color: "#222", autoSkip: false, callback: (v: any) => String(v) },
            afterBuildTicks: (s: any) => { s.ticks = p.yTicks.map((v) => ({ value: v })); },
            afterFit: (s: any) => { s.width = YW; s.paddingTop = 0; s.paddingBottom = 0; },
          },
        },
      } as any,
    });
    return () => chart.destroy();
  }, [p]);

  return (
    <>
      <div
        style={{
          position: "absolute", left: p.titleX - 120, top: p.titleY - 14, width: 240, height: 28,
          textAlign: "center", fontFamily: SERIF, fontSize: 23, lineHeight: "28px", color: "#222",
        }}
      >
        {p.title}
      </div>
      <canvas
        ref={ref}
        width={W}
        height={H}
        style={{ position: "absolute", left: p.axisX - YW, top: p.top - PT, width: W, height: H }}
      />
    </>
  );
}

const legendItems = [
  { label: "expected money growth rate", kind: "dash", y: 1050 },
  { label: "money growth forecast range", kind: "band", y: 1075 },
  { label: "actual money growth rate", kind: "solid", y: 1099 },
  { label: "expected inflation rate", kind: "dot", y: 1122 },
];

function Legend() {
  return (
    <>
      {legendItems.map((it) => (
        <div key={it.label} style={{ position: "absolute", left: 581, top: it.y - 12, height: 24, width: 281, whiteSpace: "nowrap" }}>
          <svg width={34} height={24} style={{ position: "absolute", left: 0, top: 0 }}>
            {it.kind === "dash" && <line x1={2} y1={12} x2={32} y2={12} stroke="#111" strokeWidth={2.2} strokeDasharray="9 5" />}
            {it.kind === "band" && <rect x={2} y={5} width={21} height={14} fill={BAND} />}
            {it.kind === "solid" && <line x1={2} y1={12} x2={32} y2={12} stroke="#111" strokeWidth={2.2} />}
            {it.kind === "dot" && <line x1={2} y1={12} x2={32} y2={12} stroke="#111" strokeWidth={1.3} strokeDasharray="4 3" />}
          </svg>
          <span
            style={{
              position: "absolute", left: it.kind === "band" ? 26 : 39, top: 0, fontFamily: SERIF,
              fontSize: 20.3, lineHeight: "24px", color: "#1a1a1a",
            }}
          >
            {it.label}
          </span>
        </div>
      ))}
    </>
  );
}

export default function App() {
  return (
    <div style={{ position: "absolute", left: 0, top: 0, width: 862, height: 1199, background: "#fff", overflow: "hidden" }}>
      {panels.map((p) => (
        <PanelChart key={p.title} p={p} />
      ))}
      <Legend />
    </div>
  );
}
